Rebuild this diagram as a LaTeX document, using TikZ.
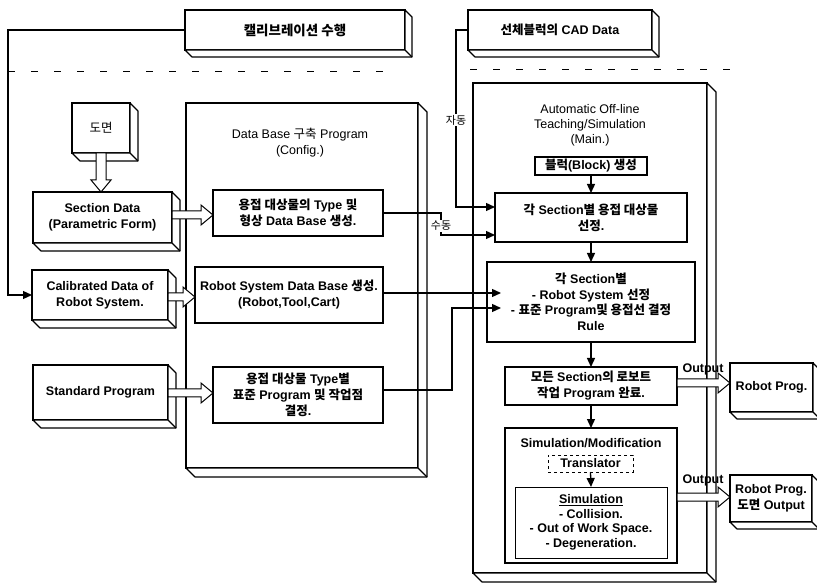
\documentclass[tikz,border=0pt]{standalone}
\usepackage{fontspec}
\setmainfont{Liberation Sans}
\newfontfamily\kr{Noto Sans CJK KR}[Scale=1.0]
\usetikzlibrary{arrows.meta,calc}
\newcommand\K[1]{{\kr #1}}
\tikzset{
 box/.style={draw, line width=1.4pt, fill=white, align=center, inner sep=0pt, outer sep=0pt,
   font=\fontsize{12.5}{16}\selectfont\bfseries},
 face/.style={draw, line width=1.2pt, fill=white, line join=round},
 conn/.style={line width=1.3pt, -{Triangle[length=9pt,width=8pt]}},
 hollow/.style={draw, line width=1pt, fill=white, line join=miter},
 ttl/.style={align=center, font=\fontsize{12.5}{16}\selectfont, inner sep=0pt},
 lbl/.style={font=\fontsize{11}{12}\selectfont, fill=white, inner sep=1pt},
 outlbl/.style={font=\fontsize{12.5}{14}\selectfont\bfseries, inner sep=0pt},
 dsh/.style={line width=1pt, dash pattern=on 7pt off 16pt},
}
\newcommand\extr[2]{%
 \draw[face] (#1.north east) -- ++(#2,#2) -- ([shift={(#2,#2)}]#1.south east)
   -- ([shift={(#2,#2)}]#1.south west) -- (#1.south west) -- (#1.south east) -- cycle;
 \draw[face] (#1.south east) -- ++(#2,#2);}
\newcommand\harrow[3]{%
 \draw[hollow] ($(#1|-0,#3)+(0,-4)$) -- ($(#2|-0,#3)+(-12,-4)$) -- ($(#2|-0,#3)+(-12,-10)$)
   -- (#2|-0,#3) -- ($(#2|-0,#3)+(-12,10)$) -- ($(#2|-0,#3)+(-12,4)$) -- ($(#1|-0,#3)+(0,4)$) -- cycle;}
\newcommand\varrow[3]{%
 \draw[hollow] ($(#1-|#3,0)+(-5,0)$) -- ($(#2-|#3,0)+(-5,-12)$) -- ($(#2-|#3,0)+(-10,-12)$)
   -- (#2-|#3,0) -- ($(#2-|#3,0)+(10,-12)$) -- ($(#2-|#3,0)+(5,-12)$) -- ($(#1-|#3,0)+(5,0)$) -- cycle;}
\begin{document}
\begin{tikzpicture}[x=1pt,y=-1pt]
\useasboundingbox[fill=white] (0,0) rectangle (817,585);

% dashed separators
\draw[dsh] (8,72) -- (385,72);
\draw[dsh] (470,70) -- (735,70);

% big frames
\node[box, minimum width=232, minimum height=365] (dbbig) at (302,285.5) {};
\extr{dbbig}{9}
\node[box, minimum width=234, minimum height=490] (autobig) at (590,328) {};
\extr{autobig}{9}
\node[ttl] (dbttl) at (300,143) {Data Base \K{구축} Program\\(Config.)};
\node[ttl, font=\fontsize{12.5}{15}\selectfont] (autottl) at (590,125) {Automatic Off-line\\Teaching/Simulation\\(Main.)};

% top boxes
\node[box, minimum width=220, minimum height=40, font=\fontsize{13.5}{16}\selectfont\bfseries] (calib) at (295,30) {\K{캘리브레이션 수행}};
\extr{calib}{7}
\node[box, minimum width=184, minimum height=40] (cad) at (560,30) {\K{선체블럭의} CAD Data};
\extr{cad}{7}

% left inputs
\node[box, minimum width=58, minimum height=50, font=\fontsize{12.5}{16}\selectfont] (dm) at (101,128) {\K{도면}};
\extr{dm}{8}
\node[box, minimum width=139, minimum height=51] (secdata) at (102.5,217.5) {Section Data\\(Parametric Form)};
\extr{secdata}{8}
\node[box, minimum width=136, minimum height=50] (calibdata) at (100,295) {Calibrated Data of\\Robot System.};
\extr{calibdata}{8}
\node[box, minimum width=135, minimum height=55] (stdprog) at (100.5,392.5) {Standard Program};
\extr{stdprog}{8}

% data base boxes
\node[box, minimum width=170, minimum height=46] (weld) at (298,213) {\K{용접 대상물의} Type \K{및}\\\K{형상} Data Base \K{생성}.};
\node[box, minimum width=188, minimum height=56] (robsys) at (289,295) {Robot System Data Base \K{생성}.\\(Robot,Tool,Cart)};
\node[box, minimum width=170, minimum height=56] (typebyl) at (298,395) {\K{용접 대상물} Type\K{별}\\\K{표준} Program \K{및 작업점}\\\K{결정}.};

% main boxes
\node[box, minimum width=112, minimum height=18] (block) at (591,166) {\K{블럭}(Block) \K{생성}};
\node[box, minimum width=192, minimum height=49] (selsec) at (591,217.5) {\K{각} Section\K{별 용접 대상물}\\\K{선정}.};
\node[box, minimum width=208, minimum height=80, font=\fontsize{12.5}{15.5}\selectfont\bfseries] (rsys) at (591,302) {\K{각} Section\K{별}\\- Robot System \K{선정}\\- \K{표준} Program\K{및 용접선 결정}\\Rule};
\node[box, minimum width=172, minimum height=38] (allsec) at (591,386) {\K{모든} Section\K{의 로보트}\\\K{작업} Program \K{완료}.};
\node[box, minimum width=172, minimum height=135] (simmod) at (591,495.5) {};
\node[outlbl] (simttl) at (591,443) {Simulation/Modification};
\node[box, dashed, line width=1pt, minimum width=85, minimum height=17] (trans) at (590.5,463.5) {Translator};
\node[box, line width=1pt, minimum width=152, minimum height=71, font=\fontsize{12.5}{14.5}\selectfont\bfseries] (siminner) at (591,522.5) {\underline{Simulation}\\- Collision.\\- Out of Work Space.\\- Degeneration.};

% outputs
\node[box, minimum width=83, minimum height=49] (rprog) at (771.5,387.5) {Robot Prog.};
\extr{rprog}{7}
\node[box, minimum width=82, minimum height=47] (rprog2) at (771,498.5) {Robot Prog.\\\K{도면} Output};
\extr{rprog2}{7}

% connectors
\draw[conn] (calib.west) -- (calib.west -| 8,0) |- (calibdata.west);
\draw[conn] (cad.west) -- (cad.west -| 456,0) |- (selsec.west |- 0,207);
\node[lbl] (jadong) at (456,120) {\K{자동}};
\draw[conn] (weld.east) -- (weld.east -| 441,0) |- (selsec.west |- 0,235);
\node[lbl] (sudong) at (441,226) {\K{수동}};
\draw[conn] (robsys.east |- 0,293) -- ($(rsys.west |- 0,293)+(14,0)$);
\draw[conn] (typebyl.east |- 0,390) -- (452,390) -- (452,308) -- ($(rsys.west |- 0,308)+(14,0)$);

\draw[conn] (block.south) -- (selsec.north);
\draw[conn] (selsec.south) -- (rsys.north);
\draw[conn] (rsys.south) -- (allsec.north);
\draw[conn] (allsec.south) -- (simmod.north);
\draw[conn] (trans.south) -- (siminner.north);

\harrow{secdata.east}{weld.west}{215}
\harrow{calibdata.east}{robsys.west}{297}
\harrow{stdprog.east}{typebyl.west}{393}
\harrow{allsec.east}{rprog.west}{383}
\harrow{simmod.east}{rprog2.west}{497}
\varrow{dm.south}{secdata.north}{101}

\node[outlbl] (out1) at (703,369) {Output};
\node[outlbl] (out2) at (703,480) {Output};
\end{tikzpicture}
\end{document}
